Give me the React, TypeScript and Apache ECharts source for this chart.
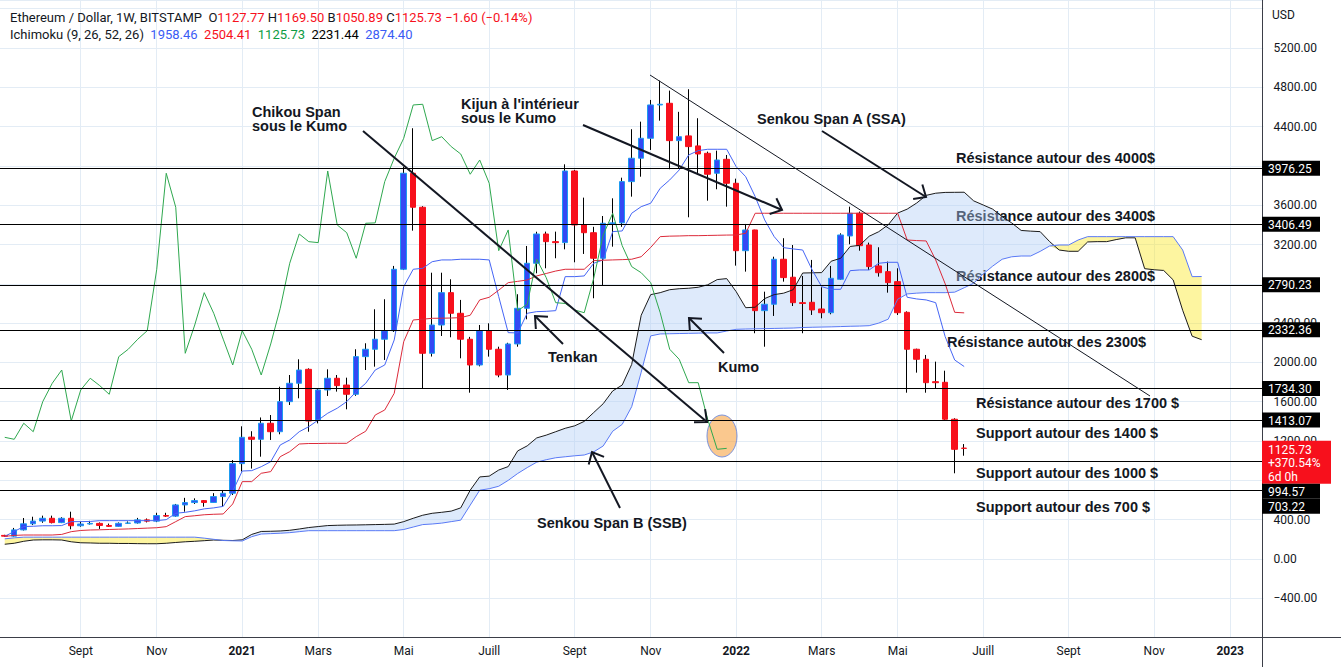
import React, { useEffect, useRef } from 'react';
import * as echarts from 'echarts';

// ---------------- DATA ----------------
// Weekly bars, week index w relative to Monday 2021-01-04 (w = 0). First bar: w = -25.
const firstWeek = -25;
const lastAxisWeek = 107;

const tickWeeks = [-17, -9, 0, 8, 17, 26, 35, 43, 52, 61, 69, 78, 87, 96, 104];
const tickTexts = ['Sept', 'Nov', '2021', 'Mars', 'Mai', 'Juill', 'Sept', 'Nov', '2022', 'Mars', 'Mai', 'Juill', 'Sept', 'Nov', '2023'];
// price-scale labels hidden by the price tags on the reference
const hiddenPriceLabels = [4000, 2800, 800];

const opens = [
  240, 232, 296, 358, 386, 414, 370, 414, 338, 356, 362, 341, 332, 363, 366, 398, 385, 442, 436, 550, 574, 594, 575, 635, 669,
  970, 1240, 1218, 1381, 1295, 1601, 1788, 1930, 1414, 1720,
  1839, 1770, 1676, 2059, 2134, 2236, 2323, 2948, 3925, 3579,
  2093, 2381, 2710, 2500, 2236, 1974, 2323, 2134, 1872, 2188,
  2551, 3009, 3307, 3229, 3219, 3948, 3399, 3320, 3060, 3410,
  3420, 3840, 4078, 4281, 4620, 4637, 4257, 4305, 4203, 4128,
  3925, 4067, 3823, 3137, 3348, 2527, 2592, 3050, 2867, 2608,
  2612, 2544, 2506, 2846, 3287, 3518, 3195, 2982, 2924, 2822,
  2510, 2134, 2032, 1804, 1798, 1422, 1127.77,
];
const highs = [
  246, 316, 417, 430, 441, 441, 425, 481, 380, 388, 372, 360, 372, 382, 418, 412, 470, 470, 560, 622, 617, 600, 670, 702, 1007,
  1350, 1300, 1440, 1465, 1753, 1872, 2032, 1940, 1730, 1930,
  1872, 1845, 2134, 2195, 2541, 2643, 2982, 3992, 4383, 3590,
  2913, 2913, 2846, 2636, 2260, 2381, 2398, 2160, 2200, 2694,
  3185, 3330, 3331, 3331, 4016, 3960, 3677, 3380, 3490, 3670,
  3880, 4373, 4450, 4671, 4867, 4766, 4550, 4780, 4485, 4145,
  4155, 4111, 3870, 3409, 3350, 2720, 3076, 3264, 3195, 2880,
  3043, 2765, 2982, 3314, 3585, 3535, 3219, 3172, 3026, 2958,
  2520, 2140, 2076, 2008, 1916, 1432, 1169.5,
];
const lows = [
  226, 228, 290, 345, 368, 362, 365, 302, 328, 350, 306, 326, 328, 356, 360, 372, 375, 428, 430, 481, 560, 532, 570, 532, 651,
  890, 920, 1041, 1211, 1269, 1567, 1635, 1295, 1380, 1659,
  1703, 1523, 1660, 1923, 1957, 2025, 2310, 2940, 3341, 1730,
  2060, 2269, 2256, 2042, 1692, 1960, 2059, 1849, 1720, 2160,
  2439, 2907, 2958, 3060, 3151, 3019, 3104, 2653, 2788, 3178,
  3380, 3687, 3890, 4162, 4460, 3966, 3970, 3477, 3908, 3646,
  3762, 3585, 2985, 2924, 2297, 2160, 2473, 2822, 2574, 2297,
  2483, 2449, 2490, 2839, 3202, 3137, 2941, 2873, 2710, 2483,
  1692, 1896, 1692, 1737, 1415, 872, 1050.89,
];
const closes = [
  232, 296, 358, 386, 414, 370, 414, 338, 356, 362, 341, 332, 363, 366, 398, 385, 442, 436, 550, 574, 594, 575, 635, 669, 970,
  1238, 1218, 1381, 1295, 1601, 1788, 1923, 1404, 1720, 1839,
  1764, 1676, 2059, 2134, 2236, 2323, 2948, 3925, 3579, 2093,
  2381, 2710, 2500, 2236, 1974, 2323, 2134, 1872, 2188, 2551,
  3009, 3307, 3229, 3219, 3948, 3399, 3320, 3060, 3416, 3420,
  3840, 4078, 4281, 4620, 4627, 4257, 4297, 4196, 4121, 3915,
  4060, 3823, 3137, 3348, 2527, 2592, 3050, 2863, 2608, 2600,
  2534, 2506, 2856, 3297, 3518, 3188, 2975, 2913, 2812, 2506,
  2134, 2032, 1794, 1794, 1422, 1116, 1125.73,
];

// Ichimoku (9, 26, 52, 26) lines
const tenkan = [
  230, 280, 330, 333, 338, 338, 340, 380, 380, 382, 390, 390, 390, 390, 390, 390, 390, 400, 465, 475, 490, 510, 520, 535, 690,
  895, 899, 939, 990, 1160, 1211, 1295, 1346, 1414, 1483,
  1534, 1601, 1703, 1788, 1923, 1974, 2229, 2771, 2948, 2958,
  3025, 3043, 3043, 3050, 3050, 3050, 3043, 2670, 2303, 2300,
  2500, 2517, 2520, 2527, 2873, 2873, 2880, 3009, 3043, 3331,
  3338, 3518, 3585, 3620, 3772, 3857, 3958, 4111, 4155, 4169,
  4169, 4169, 3992, 3890, 3687, 3450, 3280, 3168, 3155, 3144,
  2941, 2771, 2744, 2744, 2934, 2941, 2941, 3009, 3019, 3019,
  2663, 2646, 2636, 2608, 2262, 2025, 1958.46,
];
const kijun = [
  230, 240, 244, 244, 244, 244, 250, 278, 290, 295, 297, 300, 303, 306, 310, 314, 318, 329, 380, 431, 440, 450, 455, 458, 560,
  787, 787, 872, 889, 1041, 1092, 1170, 1175, 1175, 1177,
  1177, 1177, 1245, 1300, 1465, 1516, 1686, 2211, 2432, 2440,
  2449, 2450, 2452, 2456, 2480, 2636, 2663, 2735, 2812, 2825,
  2839, 2880, 2905, 2930, 2948, 2948, 2948, 3036, 3040, 3043,
  3046, 3050, 3076, 3170, 3280, 3285, 3287, 3290, 3290, 3292,
  3294, 3296, 3297, 3314, 3518, 3518, 3518, 3518, 3518, 3518,
  3518, 3518, 3518, 3518, 3518, 3518, 3518, 3518, 3518, 3518,
  3246, 3240, 3236, 3043, 2800, 2510, 2504.41,
];
// Leading spans, already displaced 26 bars forward (w = -25 .. 101)
const spanA = [
  150, 160, 180, 193, 195, 195, 193, 175, 165, 163, 160, 160, 158, 158, 156, 155, 155, 160, 168, 175, 180, 186, 193, 190, 188,
  195, 250, 280, 282, 285, 292, 305, 320, 330, 340,
  343, 345, 346, 348, 350, 352, 355, 380, 414, 445,
  465, 475, 487, 520, 700, 835, 843, 905, 940, 1100,
  1151, 1232, 1260, 1295, 1330, 1355, 1400, 1490, 1580, 1710,
  1770, 1980, 2480, 2690, 2710, 2740, 2750, 2755, 2765, 2790,
  2843, 2853, 2720, 2557, 2562, 2650, 2690, 2705, 2740, 2910,
  2912, 2914, 3030, 3060, 3180, 3192, 3284, 3330, 3400, 3520,
  3560, 3622, 3700, 3722, 3730, 3731, 3732, 3644, 3602, 3560,
  3484, 3420, 3343, 3336, 3331, 3229, 3144, 3131, 3131, 3226,
  3229, 3229, 3250, 3268, 3268, 2954, 2943, 2936, 2840, 2531,
  2267, 2231.44,
];
const spanB = [
  205, 215, 222, 222, 222, 222, 222, 222, 222, 222, 222, 222, 222, 222, 222, 222, 222, 222, 222, 222, 222, 212, 200, 188, 185,
  183, 227, 254, 258, 262, 268, 278, 288, 288, 288,
  288, 288, 288, 288, 288, 288, 288, 300, 325, 350,
  356, 365, 380, 395, 548, 700, 715, 740, 800, 870,
  930, 985, 1010, 1030, 1040, 1050, 1058, 1090, 1150, 1300,
  1370, 1550, 1900, 2270, 2290, 2292, 2294, 2296, 2298, 2300,
  2300, 2320, 2337, 2340, 2342, 2344, 2346, 2348, 2350, 2355,
  2358, 2360, 2362, 2365, 2368, 2370, 2374, 2400, 2440, 2643,
  2697, 2705, 2710, 2710, 2710, 2715, 2760, 2806, 2900, 2980,
  3050, 3075, 3083, 3083, 3130, 3185, 3195, 3195, 3246, 3280,
  3280, 3280, 3280, 3280, 3280, 3280, 3280, 3280, 3280, 3144,
  2873, 2874.4,
];

const levels = [3976.25, 3406.49, 2790.23, 2332.36, 1734.3, 1413.07, 994.57, 703.22];
const lastPrice = 1125.73;
const lastTagLines = ['1125.73', '+370.54%', '6d 0h'];

const ohlcLetters = ['O', 'H', 'B', 'C'];
const ohlcValues = ['1127.77', '1169.50', '1050.89', '1125.73'];
const changeText = '\u22121.60 (\u22120.14%)';
const ichimokuValues = ['1958.46', '2504.41', '1125.73', '2231.44', '2874.40'];
const ichimokuKeys = ['b', 'r', 'g', 'k', 'b'];

const annotations = [
  { t: 'Chikou Span', x: 252, y: 112 },
  { t: 'sous le Kumo', x: 252, y: 126 },
  { t: "Kijun à l'intérieur", x: 461, y: 104 },
  { t: 'sous le Kumo', x: 461, y: 118 },
  { t: 'Senkou Span A (SSA)', x: 757, y: 119 },
  { t: 'Tenkan', x: 548, y: 357 },
  { t: 'Kumo', x: 718, y: 367 },
  { t: 'Senkou Span B (SSB)', x: 537, y: 523 },
  { t: 'Résistance autour des 4000$', x: 956, y: 158 },
  { t: 'Résistance autour des 3400$', x: 956, y: 216 },
  { t: 'Résistance autour des 2800$', x: 956, y: 276 },
  { t: 'Résistance autour des 2300$', x: 947, y: 342 },
  { t: 'Résistance autour des 1700 $', x: 976, y: 403 },
  { t: 'Support autour des 1400 $', x: 976, y: 433 },
  { t: 'Support autour des 1000 $', x: 976, y: 473 },
  { t: 'Support autour des 700 $', x: 976, y: 507 },
];
const arrows = [
  [363, 131, 707, 422],
  [583, 125, 782, 210],
  [822, 131, 926, 197],
  [563, 344, 535, 316],
  [724, 353, 689, 318],
  [620, 508, 592, 452],
];

// ---------------- CHART ----------------
const FONT = 'Roboto, "Liberation Sans", sans-serif';
const BOLD_FONT = '"Liberation Sans", Arial, sans-serif';
const INK = '#131722';
const RED = '#f7101c';

function arrowEls(x1: number, y1: number, x2: number, y2: number) {
  const ang = Math.atan2(y2 - y1, x2 - x1);
  const head = 13;
  const a1 = ang + Math.PI - 0.72;
  const a2 = ang + Math.PI + 0.72;
  return [
    { type: 'line', z: 20, shape: { x1, y1, x2, y2 }, style: { stroke: INK, lineWidth: 2 } },
    {
      type: 'polyline', z: 20,
      shape: { points: [[x2 + head * Math.cos(a1), y2 + head * Math.sin(a1)], [x2, y2], [x2 + head * Math.cos(a2), y2 + head * Math.sin(a2)]] },
      style: { stroke: INK, lineWidth: 2, fill: null },
    },
  ];
}

export default function App() {
  const ref = useRef<HTMLDivElement>(null);
  useEffect(() => {
    const el = ref.current as HTMLDivElement;
    const chart = echarts.init(el, null, { renderer: 'svg' });

    const nCats = lastAxisWeek - firstWeek + 1;
    const start = Date.UTC(2020, 6, 13);
    const categories = Array.from({ length: nCats }, (_, i) => new Date(start + i * 7 * 86400000).toISOString().slice(0, 10));
    const tickIdx = new Map<number, string>();
    tickWeeks.forEach((w, i) => tickIdx.set(w - firstWeek, tickTexts[i]));

    const wickData = opens.map((o, i) => [o, closes[i], lows[i], highs[i]]);
    const bodyData = opens.map((o, i) => [o, closes[i], Math.min(o, closes[i]), Math.max(o, closes[i])]);
    const chikou = closes.slice(26 - 1);
    const kumoLow = spanA.map((a, i) => Math.min(a, spanB[i]));
    const kumoUp = spanA.map((a, i) => (a > spanB[i] ? a - spanB[i] : 0));
    const kumoDown = spanA.map((a, i) => (spanB[i] > a ? spanB[i] - a : 0));

    const plain = { type: 'line', symbol: 'none', showSymbol: false, silent: true };

    const option: any = {
      animation: false,
      backgroundColor: '#ffffff',
      grid: { left: -2.76, right: 77.6, top: 0, bottom: 29.4, containLabel: false },
      xAxis: {
        type: 'category',
        data: categories,
        axisLine: { show: false },
        axisTick: { show: false },
        splitLine: { show: false },
        axisLabel: {
          interval: (i: number) => tickIdx.has(i),
          formatter: (_v: string, i: number) => {
            const t = tickIdx.get(i) || '';
            return /^\d{4}$/.test(t) ? '{y|' + t + '}' : t;
          },
          color: INK, fontSize: 12, fontFamily: FONT, margin: 7,
          rich: { y: { fontWeight: 'bold', fontSize: 12, fontFamily: FONT, color: INK } },
        },
      },
      yAxis: {
        type: 'value', position: 'right', min: -800, max: 5688, interval: 400,
        axisLine: { show: false }, axisTick: { show: false },
        splitLine: { show: true, lineStyle: { color: '#e3ecf5', width: 1 } },
        axisLabel: {
          color: INK, fontSize: 12, fontFamily: FONT, margin: 10,
          formatter: (v: number) =>
            v > 5200 || v < -400 || hiddenPriceLabels.indexOf(v) >= 0
              ? ''
              : v < 0 ? '\u2212' + Math.abs(v).toFixed(2) : v.toFixed(2),
        },
      },
      series: [
        {
          ...plain, name: 'kumoBase', stack: 'kUp', data: kumoLow, lineStyle: { opacity: 0 }, z: 2,
          markLine: {
            silent: true, symbol: ['none', 'none'], z: 1, label: { show: false },
            lineStyle: { color: '#e3ecf5', width: 1, type: 'solid' },
            data: tickWeeks.map((w) => ({ xAxis: categories[w - firstWeek] })),
          },
        },
        { ...plain, name: 'kumoUp', stack: 'kUp', data: kumoUp, lineStyle: { opacity: 0 }, areaStyle: { color: 'rgba(176,205,245,0.42)', opacity: 1 }, z: 2 },
        { ...plain, name: 'kumoBase2', stack: 'kDown', data: kumoLow, lineStyle: { opacity: 0 }, z: 2 },
        { ...plain, name: 'kumoDown', stack: 'kDown', data: kumoDown, lineStyle: { opacity: 0 }, areaStyle: { color: 'rgba(251,233,44,0.45)', opacity: 1 }, z: 2 },
        {
          type: 'candlestick', name: 'wicks', data: wickData, barWidth: 0, silent: true, z: 3,
          itemStyle: { color: '#000', color0: '#000', borderColor: '#000', borderColor0: '#000', borderWidth: 1 },
        },
        {
          type: 'candlestick', name: 'ETHUSD', data: bodyData, barWidth: 6, silent: true, z: 3,
          itemStyle: { color: '#3448f4', color0: RED, borderColor: '#1d9bf0', borderColor0: RED, borderWidth: 1 },
          markLine: {
            silent: true, symbol: ['none', 'none'], label: { show: false },
            lineStyle: { color: '#000', width: 1, type: 'solid' },
            data: levels.map((v) => ({ yAxis: v })),
          },
        },
        { ...plain, name: 'Lead A', data: spanA, lineStyle: { color: '#1b1b1b', width: 1 }, z: 4 },
        { ...plain, name: 'Lead B', data: spanB, lineStyle: { color: '#5a7af6', width: 1 }, z: 4 },
        { ...plain, name: 'Tenkan', data: tenkan, lineStyle: { color: '#4565f5', width: 1 }, z: 4 },
        { ...plain, name: 'Kijun', data: kijun, lineStyle: { color: '#dc2a3a', width: 1 }, z: 4 },
        { ...plain, name: 'Chikou', data: chikou, lineStyle: { color: '#2fa84f', width: 1 }, z: 4 },
      ],
    };
    chart.setOption(option);

    // ----- price tags on the scale, positions from the y axis -----
    const yOf = (v: number) => chart.convertToPixel({ yAxisIndex: 0 }, v) as number;
    type Tag = { lines: string[]; y: number; fill: string; red: boolean };
    const tags: Tag[] = levels.map((v) => ({ lines: [v.toFixed(2)], y: yOf(v), fill: '#000', red: false }));
    tags.push({ lines: lastTagLines, y: yOf(lastPrice), fill: RED, red: true });
    tags.sort((a, b) => a.y - b.y);
    const tagEls: any[] = [];
    let prevBottom = -1e9;
    const axisX = 1262;
    tags.forEach((t) => {
      const h = t.red ? 43 : 15;
      let top = t.red ? t.y - 7.5 : t.y - h / 2;
      if (top < prevBottom) top = prevBottom;
      prevBottom = top + h;
      const w = t.red ? 69 : 58;
      tagEls.push({ type: 'rect', z: 30, shape: { x: axisX, y: top, width: w, height: h }, style: { fill: t.fill } });
      tagEls.push({
        type: 'text', z: 31,
        style: {
          x: axisX + 6, y: t.red ? top + 2 : top + h / 2 + 0.5, text: t.lines.join('\n'),
          fill: '#fff', fontSize: 12, fontFamily: FONT, lineHeight: 13.5,
          verticalAlign: t.red ? 'top' : 'middle', textVerticalAlign: t.red ? 'top' : 'middle',
        },
      });
    });

    const legend1 =
      '{t|Ethereum / Dollar, 1W, BITSTAMP}  ' +
      ohlcLetters.map((l, i) => '{t|' + l + '}{r|' + ohlcValues[i] + '}').join(' ') +
      ' {r|' + changeText + '}';
    const legend2 = '{t|Ichimoku (9, 26, 52, 26)}  ' + ichimokuValues.map((v, i) => '{' + ichimokuKeys[i] + '|' + v + '}').join('  ');
    const rich = {
      t: { fill: INK, fontSize: 13, fontFamily: FONT },
      r: { fill: RED, fontSize: 13, fontFamily: FONT },
      b: { fill: '#3a5cf5', fontSize: 13, fontFamily: FONT },
      g: { fill: '#0c9c45', fontSize: 13, fontFamily: FONT },
      k: { fill: '#000', fontSize: 13, fontFamily: FONT },
    };

    const staticEls: any[] = [
      { type: 'text', z: 6, style: { x: 10, y: 17, text: legend1, rich, fontSize: 13, fontFamily: FONT, fill: INK, verticalAlign: 'middle', textVerticalAlign: 'middle' } },
      { type: 'text', z: 6, style: { x: 10, y: 34, text: legend2, rich, fontSize: 13, fontFamily: FONT, fill: INK, verticalAlign: 'middle', textVerticalAlign: 'middle' } },
      { type: 'text', z: 6, style: { x: 1272, y: 15, text: 'USD', fontSize: 12, fontFamily: FONT, fill: INK, verticalAlign: 'middle', textVerticalAlign: 'middle' } },
      { type: 'line', z: 25, shape: { x1: 1262.5, y1: 0, x2: 1262.5, y2: 667 }, style: { stroke: '#3b3e48', lineWidth: 1 } },
      { type: 'line', z: 25, shape: { x1: 0, y1: 637.5, x2: 1341, y2: 637.5 }, style: { stroke: '#3b3e48', lineWidth: 1 } },
      { type: 'line', z: 19, shape: { x1: 650, y1: 75, x2: 1150, y2: 396 }, style: { stroke: INK, lineWidth: 1 } },
      { type: 'ellipse', z: 3, shape: { cx: 722, cy: 436, rx: 15, ry: 21 }, style: { fill: 'rgba(247,163,66,0.6)', stroke: '#7b93dc', lineWidth: 1 } },
      ...annotations.map((a) => ({
        type: 'text', z: 1,
        style: {
          x: a.x, y: a.y, text: a.t, fill: INK, fontSize: 14.5, fontWeight: 'bold', fontFamily: BOLD_FONT,
          verticalAlign: 'middle', textVerticalAlign: 'middle',
        },
      })),
      ...arrows.flatMap((a) => arrowEls(a[0], a[1], a[2], a[3])),
    ];

    chart.setOption({ graphic: { elements: [...staticEls, ...tagEls] } });

    return () => chart.dispose();
  }, []);

  return <div ref={ref} style={{ position: 'absolute', left: 0, top: 0, width: 1341, height: 667, background: '#fff' }} />;
}
